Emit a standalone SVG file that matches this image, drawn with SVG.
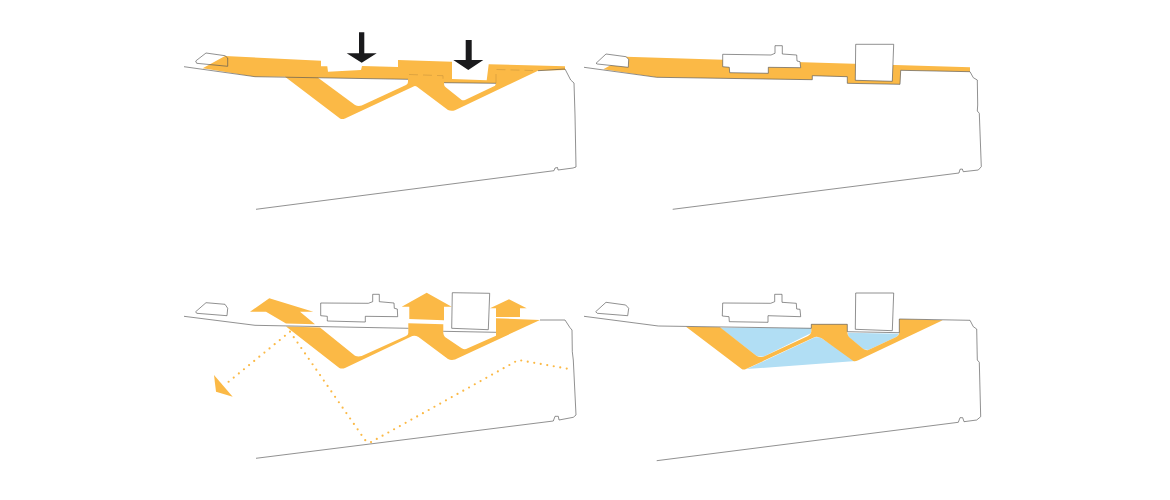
<svg xmlns="http://www.w3.org/2000/svg" width="1170" height="500" viewBox="0 0 1170 500">
<style>
.o{fill:#fbb946;stroke:none}
.b{fill:#b1def4;stroke:none}
.k{fill:#1a1a1c;stroke:none}
.w{fill:#fff;stroke:none}
.l{fill:none;stroke:#555;stroke-width:.65;stroke-linejoin:miter}
.h{fill:none;stroke:#c08f3a;stroke-width:.5;stroke-dasharray:9 5}
.d{fill:none;stroke:#fbb946;stroke-width:2.2;stroke-linecap:round;stroke-dasharray:0 6.6}
</style>
<rect width="1170" height="500" fill="#fff"/>
<g id="panel-top-left">
<path class="o" d="M202.7 68.3L225 56 321 60.7V66.3H327.3L328 71.7 361 70 362 66 398 67V60L452 61.7V79L486.7 80.3 488.7 64.3 565 66.3V70L538 70.7 455 110.3Q451 111.5 448 110L417 86.7Q415 85.5 413 86.7L345 118.5Q342 119.5 340 118.5L285 76.7H255Z"/>
<path class="w" d="M318 77.7L408 79.3V82Q408 84 406 85L361.7 105.5Q358 106.5 355 105Z"/>
<path class="w" d="M444 82.7L496 83.3 495 85.7 465 100Q463 100.6 461.7 100L446 87.5Q444 86 444 84Z"/>
<path class="l" d="M184 66.7L255 76.7 408 79.3M444 82.7L496 83.3M538 70.7L565 69 570.7 80 574 83 575 115 576 167 573 168 558 170 557.5 167.5 555 168 554 170.7 256 209.3"/>
<path class="h" d="M409 74.5L443 75.7V82M496 83V69.5L533 70.5"/>
<path class="l" d="M195.7 61L206 53 225 55.7 227.7 58 227.7 66.3 196.7 63.3Z"/>
<path class="k" d="M359 32.3H364.3V53.3H376.7L361.7 62.7 346.7 53.3H359Z"/>
<path class="k" d="M465.7 40H471.7V60H483.3L468.3 70 453.3 60H465.7Z"/>
</g>
<g id="panel-top-right">
<path class="o" d="M603.3 69.3L626 56.7 970 67.3V71.7L900.7 70.3 900 84.3 847.3 83.3V76.7L812.3 75.7V79.7L656.7 77.3Z"/>
<path class="l" d="M584 67.3L656.7 77.3 812.3 79.7V75.7L847.3 76.7V83.3L900 84.3 900.7 70.3 970 71.7 973.3 77.7 977.3 80 977.7 105 977.3 111 979.3 113.3 981.3 166.7 978.3 170 963.3 171.7 962.3 169 960 169.3 959 173 672.7 209.3"/>
<path class="w" d="M596 63.3L606 54 626 56.7 628.7 59.3 628.3 67.3 597.3 64Z"/>
<path class="l" d="M596 63.3L606 54 626 56.7 628.7 59.3 628.3 67.3 597.3 64Z"/>
<path class="w" d="M722.7 54.3L771 55 775 53.3V45.7H782.3V54L796.7 55 797 61 800 61.7 800.7 67.7 768.3 67.3V73.3L729.7 72.7 729.3 67.3 722.7 66.7Z"/>
<path class="l" d="M722.7 54.3L771 55 775 53.3V45.7H782.3V54L796.7 55 797 61 800 61.7 800.7 67.7 768.3 67.3V73.3L729.7 72.7 729.3 67.3 722.7 66.7Z"/>
<path class="w" d="M855.7 44.3H893.7L892.3 81.3 855.3 80.3Z"/>
<path class="l" d="M855.7 44.3H893.7L892.3 81.3 855.3 80.3Z"/>
</g>
<g id="panel-bottom-left">
<path class="o" d="M250 311.7L269.3 298.3 313.3 311.7H300L315 324.3 286 323.5 266 311.7Z"/>
<path class="o" d="M286 326.5L320 327.5 355 355.7Q358 357 361.7 356L406 336Q408.3 335 408.3 333V323.3L443.3 324.3V333Q443.5 335.5 445 337L461.7 348.3Q464 349.5 466 349L496 335.7V318.3L540 320 455 359.5Q451 360.5 448 359L418.5 337Q415 335 412.3 336L345 368Q342 369 339.3 368Z"/>
<path class="o" d="M401.7 306.7L426.7 292.7 451.7 306.7H444V320.3L409.3 319V306.7Z"/>
<path class="o" d="M490 308.3L509 299.3 526.7 308.3H520V317H496V308.3Z"/>
<path class="o" d="M214 375L232.7 396.7 216 391.7Z"/>
<path class="d" d="M290 331.7L226.7 383.3M290 331.7L365 440 370 442.7 518.3 360 569.3 369"/>
<path class="l" d="M184 316.3L255 325.3 408.3 328.3M443.3 331.3L496 332.3M540 320H565L570 327.7 572 330 572.3 351.7 573.3 360 576 415 573.3 417.3 559 420 558.3 416.3 555 416.3 553.3 421 256 458.3"/>
<path class="l" d="M195.7 311.7L206 302.7 225 304.3 227.7 308.3 227 315.7 196.7 313.3Z"/>
<path class="l" d="M320.7 303L368.3 303.3 372.7 301.7V294.3H379.3V301.7L394 303 394.3 308.3 397.3 309 397.7 316.7 365.3 316.3V322L327.3 321V316.3L320.7 315.7Z"/>
<path class="l" d="M452.3 292.7L489.7 293.3 488.3 329.7 451.7 328.3Z"/>
</g>
<g id="panel-bottom-right">
<path class="b" d="M720 327.7L811.3 328.3V333L763.3 356.7 756.7 356Z"/>
<path class="b" d="M746.7 369L815 337.3H820L856 361Z"/>
<path class="b" d="M848 332.7L899.3 333.7 896.7 336.7 868.3 350 863.3 349.3 848.3 336.7Z"/>
<path class="o" d="M686 326.7L720 327.3 756.7 356Q760 357.5 763.3 356.7L808 336Q811 334.5 811.3 332V324.3H847.3V332Q847.5 335 849 337L863.3 349Q866 350.5 868.3 350L896.7 336.7Q899 335.5 899.3 333V319L942.7 320.3 858.3 360.3Q855 361.5 853.3 361L821.7 338.3Q817 335.5 813.3 337.7L746 369Q743.5 370 741.7 369Z"/>
<path class="l" d="M584 316.3L658.3 326 811.3 328.3V324.3H847.3V331.7L899.3 332.7V319L970 320.3 973.3 326.7 976.7 329 977.3 360 979.3 362.3 980.7 416.7 976.7 420 964 421.7 962.7 417.7 960 417.7 958.3 422.3 656.7 460.7"/>
<path class="l" d="M595.7 311.7L606 302.3 625.7 305 628.7 308.3 627.7 315.7 597.3 313.3Z"/>
<path class="l" d="M722.7 303L770.7 303.3 774.7 301.7V294.3H782V302.3L796.3 303.3 796.7 309 800 309.3 800.7 316.7 768 315.7V322.3L729.3 321.7 729 316.7 722.3 316Z"/>
<path class="l" d="M855.7 293H893.7L892.3 330.7 855.3 329.3Z"/>
</g>
</svg>
